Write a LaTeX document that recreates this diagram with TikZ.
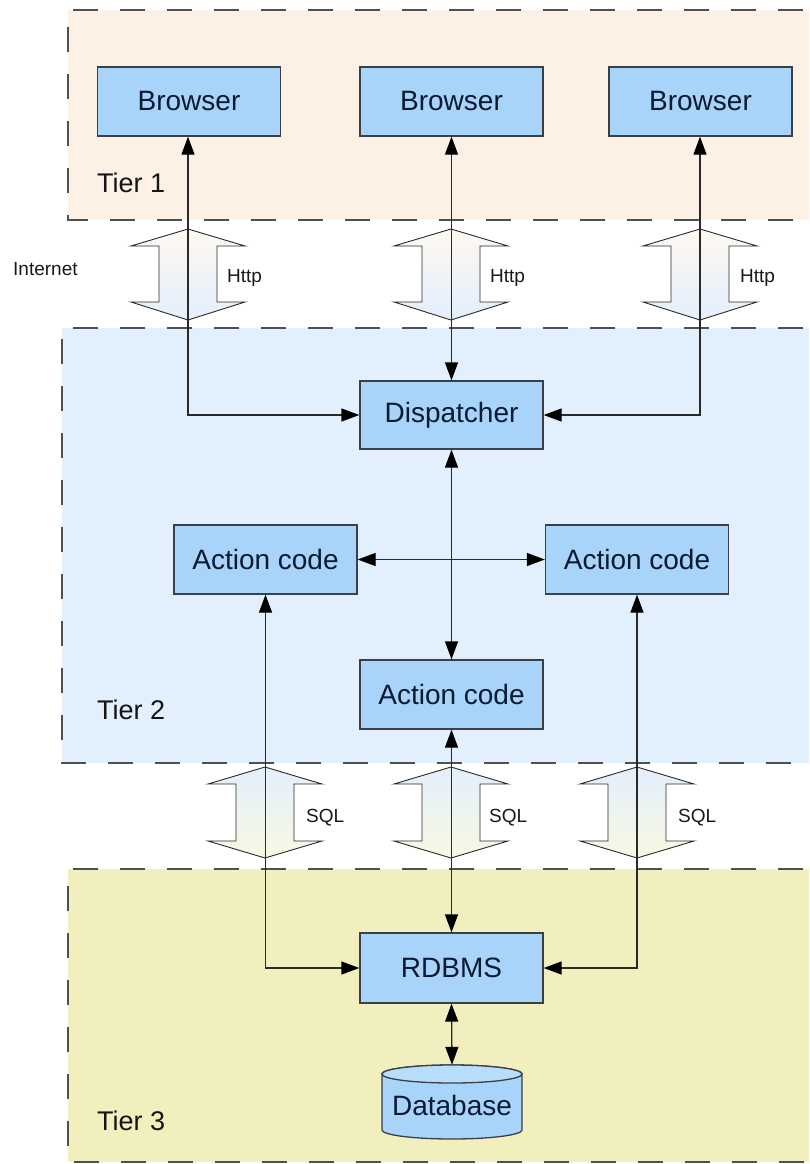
\documentclass[tikz,border=0pt]{standalone}
\usepackage{fontspec}
\setmainfont{Liberation Sans}
\usetikzlibrary{arrows.meta}
\definecolor{tierA}{HTML}{FDF1E6}
\definecolor{tierB}{HTML}{E2EFFC}
\definecolor{tierC}{HTML}{F2EFBF}
\definecolor{boxblue}{HTML}{A8D4FA}
\definecolor{boxtop}{HTML}{B8DEFC}
\definecolor{boxline}{HTML}{3A3F48}
\definecolor{boxtext}{HTML}{0B1A33}
\definecolor{conncol}{HTML}{2A2A2A}
\definecolor{framecol}{HTML}{505050}
\tikzset{
  tierframe/.style={draw=framecol, line width=1.3pt, dash pattern=on 25pt off 22pt},
  compbox/.style={draw=boxline, fill=boxblue, line width=1.3pt, minimum width=183pt,
    minimum height=69pt, inner sep=0pt, text=boxtext, font=\fontsize{28}{32}\selectfont},
  conn/.style={draw=conncol, line width=1.3pt, {Triangle[length=18pt,width=13pt,black]}-{Triangle[length=18pt,width=13pt,black]}},
  blockar/.style={draw=conncol, line width=0.9pt},
  smalllbl/.style={anchor=west, inner sep=0pt, text=black!90, font=\fontsize{19}{22}\selectfont},
  tierlbl/.style={anchor=base west, inner sep=0pt, text=black!92, font=\fontsize{27}{32}\selectfont},
}
\newcommand{\dblblock}[6]{% x, tip, wing, wing2, tip2, shading
  \path[blockar,#6] (#1,#2) -- ++(57,#3-#2) -- ++(-28,0) -- ++(0,#4-#3) -- ++(28,0)
    -- (#1,#5) -- ++(-57,#4-#5) -- ++(28,0) -- ++(0,#3-#4) -- ++(-28,0) -- cycle;}
\begin{document}
\begin{tikzpicture}[x=1pt,y=-1pt]
\useasboundingbox (0,0) rectangle (809,1164);
\clip (0,0) rectangle (809,1164);
\fill[white] (0,0) rectangle (809,1164);
% tiers
\path[tierframe, fill=tierA] (850,10) -- (68,10) -- (68,220) -- (850,220);
\path[tierframe, fill=tierB] (850,328) -- (62,328) -- (62,763) -- (850,763);
\path[tierframe, fill=tierC] (850,869) -- (68,869) -- (68,1162) -- (850,1162);
\node[tierlbl] (t1) at (97,192) {Tier 1};
\node[tierlbl] (t2) at (97,719) {Tier 2};
\node[tierlbl] (t3) at (97,1130) {Tier 3};
% block arrows
\dblblock{188}{229}{246}{302}{320}{top color=tierA!50!white, bottom color=tierB}
\dblblock{451}{229}{246}{302}{320}{top color=tierA!50!white, bottom color=tierB}
\dblblock{700}{229}{246}{302}{320}{top color=tierA!50!white, bottom color=tierB}
\dblblock{265}{767}{784}{841}{858}{top color=tierB, bottom color=tierC!45!white}
\dblblock{451}{767}{784}{841}{858}{top color=tierB, bottom color=tierC!45!white}
\dblblock{637}{767}{784}{841}{858}{top color=tierB, bottom color=tierC!45!white}
\node[smalllbl] (h1) at (227,278) {Http};
\node[smalllbl] (h2) at (490,278) {Http};
\node[smalllbl] (h3) at (740,278) {Http};
\node[smalllbl] (s1) at (306,818) {SQL};
\node[smalllbl] (s2) at (489,818) {SQL};
\node[smalllbl] (s3) at (678,818) {SQL};
\node[smalllbl] (inet) at (13,269) {Internet};
% boxes
\node[compbox] (b1) at (189,101.5) {Browser};
\node[compbox] (b2) at (451.5,101.5) {Browser};
\node[compbox] (b3) at (700.5,101.5) {Browser};
\node[compbox, minimum height=68pt] (disp) at (451.5,415) {Dispatcher};
\node[compbox] (acL) at (265.5,559.5) {Action code};
\node[compbox] (acR) at (637,559.5) {Action code};
\node[compbox] (acC) at (451.5,694.5) {Action code};
\node[compbox, minimum height=70pt] (rdb) at (451.5,968) {RDBMS};
% database cylinder
\path[draw=boxline, fill=boxblue, line width=1.3pt] (382,1074) -- (382,1130)
  arc[start angle=180, end angle=0, x radius=70, y radius=9] -- (522,1074)
  arc[start angle=0, end angle=-180, x radius=70, y radius=9] -- cycle;
\draw[draw=boxline, fill=boxtop, line width=1.3pt] (452,1074) ellipse[x radius=70, y radius=9];
\node[inner sep=0pt, minimum width=140pt, minimum height=74pt, text=boxtext,
  font=\fontsize{28}{32}\selectfont, text depth=0pt] (db) at (452,1102) {\raisebox{-6pt}{Database}};
% connectors
\draw[conn] (b1.south -| 188,0) |- (disp.west);
\draw[conn] (b2.south) -- (disp.north);
\draw[conn] (b3.south -| 700,0) |- (disp.east);
\draw[conn] (disp.south) -- (acC.north);
\draw[conn] (acL.east) -- (acR.west);
\draw[conn] (acL.south) |- (rdb.west);
\draw[conn] (acC.south) -- (rdb.north);
\draw[conn] (acR.south) |- (rdb.east);
\draw[conn] (rdb.south) -- (db.north);
\end{tikzpicture}
\end{document}
